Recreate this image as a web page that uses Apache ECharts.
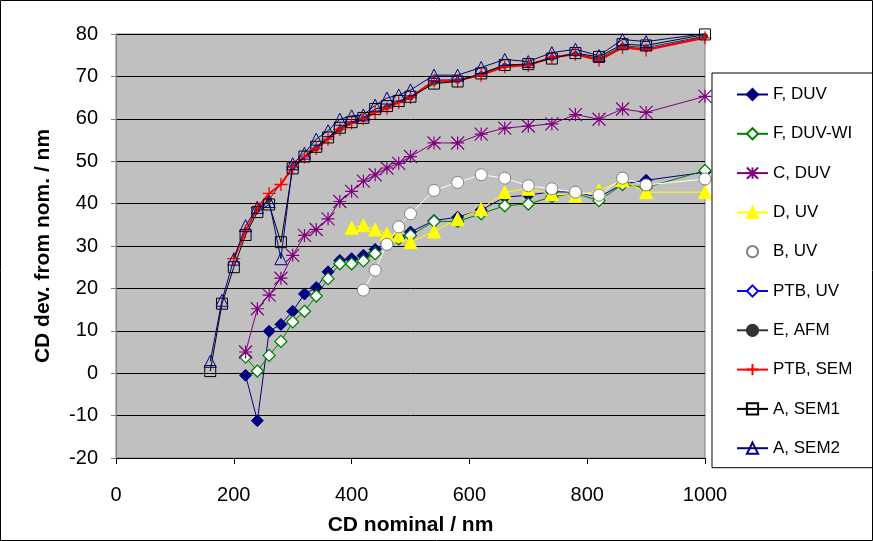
<!DOCTYPE html>
<html>
<head>
<meta charset="utf-8">
<script src="https://cdn.jsdelivr.net/npm/echarts@6/dist/echarts.min.js"></script>
<style>
html,body{margin:0;padding:0;background:#fff;}
#c{width:873px;height:541px;}
</style>
</head>
<body>
<div id="c"></div>
<script>
// ---- data ----
var xA = [160,180,200,220,240,260,280,300,320,340,360,380,400,420,440,460,480,500,540,580,620,660,700,740,780,820,860,900,1000];
var aSem1 = [0.5,16.4,25,32.6,38,39.8,30.9,48.3,51.1,53.4,55.6,57.9,59.2,60.2,62.3,63,64.2,65.2,68.3,68.8,70.7,72.7,72.9,74.2,75.5,74.6,77.6,77.3,79.9];
var aSem2 = [2.8,17.2,26.9,34.8,39.1,40.5,27.0,49.4,51.9,55.2,57.2,59.9,60.7,60.9,63.2,64.9,65.6,66.8,70.3,70.3,72.1,74,73.5,75.6,76.4,74.9,78.7,78.2,80.1];

var xPtbSem = [200,220,240,260,280,300,320,340,360,380,400,420,440,460,480,500,540,580,620,660,700,740,780,820,860,900,1000];
var ptbSem = [27,33.5,39,42.4,44.5,48.6,51,53,55.2,57.5,59,60,61.5,62.5,63.8,65,69,69,70.3,72.3,72.6,74.5,75.2,73.8,76.8,76.2,79.1];

var xEafm = [240,260,300,340,380,420,460,500,540,580,620,660,700,740,780,820,860,900,1000];
var eAfm = [38.5,41,48.5,53,57.5,60,62.8,65,68.5,69,70.5,72.5,72.8,74.3,75.3,74.2,77.2,76.8,79.5];

var xPtbUv = [300,340,380,420,460,500,540,580,620,660,700,740,780,820,860,900,1000];
var ptbUv = [48.8,53.2,57.6,60.1,62.7,65.1,69.1,69.2,70.5,72.5,72.7,74.6,75.3,73.9,77,76.4,79.3];

var xC = [220,240,260,280,300,320,340,360,380,400,420,440,460,480,500,540,580,620,660,700,740,780,820,860,900,1000];
var cDuv = [5.0,15.2,18.4,22.4,27.8,32.5,33.9,36.4,40.5,42.9,45.3,46.8,48.4,49.5,51.1,54.3,54.3,56.4,57.8,58.3,58.8,61.0,59.9,62.3,61.5,65.3];

var xF = [220,240,260,280,300,320,340,360,380,400,420,440,460,480,500,540,580,620,660,700,740,780,820,860,900,1000];
var fDuv = [-0.5,-11.2,9.9,11.5,14.6,18.7,20.2,23.9,26.6,27.0,27.8,29.2,30.5,32.0,33.3,36.0,36.8,38.5,41.5,42.0,42.8,42.7,41.5,44.6,45.5,47.4];
var fDuvWi = [3.8,0.5,4.2,7.5,12.1,14.6,18.2,22.3,25.8,25.8,26.5,28.2,30.6,31.7,32.5,35.8,35.8,37.6,39.5,39.9,41.6,42.4,40.7,44.5,43.8,47.8];

var xD = [400,420,440,460,480,500,540,580,620,660,700,740,780,820,860,900,1000];
var dUv = [34.3,34.9,33.9,32.9,32.5,30.9,33.4,36.4,38.7,42.7,43.5,42.3,41.9,43.1,45.5,42.7,42.7];

var xB = [420,440,460,480,500,540,580,620,660,700,740,780,820,860,900,1000];
var bUv = [19.6,24.3,30.4,34.5,37.6,43.1,45.0,46.8,46.0,44.2,43.5,42.7,42.0,46.0,44.4,45.8];

var xTicks = [0,200,400,600,800,1000];
var yTicks = [-20,-10,0,10,20,30,40,50,60,70,80];

function pairs(xs, ys){ return xs.map(function(x,i){ return [x, ys[i]]; }); }

var FONT = 'Liberation Sans, Arial, sans-serif';
var plusPath = 'path://M5,0L5,10M0,5L10,5';
var starPath = 'path://M5,0L5,10M0,0L10,10M10,0L0,10M0,5L10,5';

function mk(name, xs, ys, o){
  return {
    name: name, type: 'line', data: pairs(xs, ys),
    symbol: o.symbol, symbolSize: o.size,
    showAllSymbol: true,
    lineStyle: { color: o.line, width: o.lw || 1 },
    itemStyle: { color: o.fill, borderColor: o.border, borderWidth: o.bw || 1 },
    emphasis: { disabled: true },
    animation: false,
    z: o.z || 2
  };
}

var chart = echarts.init(document.getElementById('c'), null, { renderer: 'canvas' });
chart.setOption({
  animation: false,
  backgroundColor: '#fff',
  graphic: [{ type: 'rect', shape: { x: 0.5, y: 0.5, width: 872, height: 540 }, style: { fill: 'none', stroke: '#000', lineWidth: 1 }, z: 100 }],
  grid: { left: 116, right: 168, top: 34, bottom: 83, show: true, backgroundColor: '#C0C0C0', borderColor: '#808080', borderWidth: 1 },
  xAxis: {
    type: 'value', min: 0, max: 1000, interval: 200,
    name: 'CD nominal / nm', nameLocation: 'middle', nameGap: 57,
    nameTextStyle: { fontFamily: FONT, fontSize: 21, fontWeight: 'bold', color: '#000' },
    axisLine: { onZero: false, lineStyle: { color: '#000', width: 1 } },
    axisTick: { show: true, length: 6, lineStyle: { color: '#000' } },
    axisLabel: { margin: 27, fontFamily: FONT, fontSize: 20, color: '#000',
      formatter: function(v){ return xTicks.indexOf(v) >= 0 ? String(v) : ''; } },
    splitLine: { show: false }
  },
  yAxis: {
    type: 'value', min: -20, max: 80, interval: 10,
    name: 'CD dev. from nom. / nm', nameLocation: 'middle', nameGap: 62, nameRotate: 90,
    nameTextStyle: { fontFamily: FONT, fontSize: 21, fontWeight: 'bold', color: '#000' },
    axisLine: { show: true, lineStyle: { color: '#808080', width: 1 } },
    axisTick: { show: true, length: 5, lineStyle: { color: '#808080' } },
    axisLabel: { margin: 18, fontFamily: FONT, fontSize: 20, color: '#000',
      formatter: function(v){ return yTicks.indexOf(v) >= 0 ? String(v) : ''; } },
    splitLine: { show: true, lineStyle: { color: '#000', width: 1 } }
  },
  legend: {
    orient: 'vertical', left: 712, top: 73,
    itemWidth: 31, itemHeight: 14, itemGap: 22.3,
    padding: [13, 60, 11, 24],
    backgroundColor: '#fff', borderColor: '#000', borderWidth: 1,
    textStyle: { fontFamily: FONT, fontSize: 17, color: '#000', lineHeight: 14 },
    data: ['F, DUV','F, DUV-WI','C, DUV','D, UV','B, UV','PTB, UV','E, AFM','PTB, SEM','A, SEM1','A, SEM2']
  },
  series: [
    mk('F, DUV', xF, fDuv, { symbol: 'diamond', size: 12, line: '#000080', fill: '#000080', border: '#000080' }),
    mk('F, DUV-WI', xF, fDuvWi, { symbol: 'diamond', size: 12, line: '#008000', fill: '#FFFFFF', border: '#008000', bw: 1.3 }),
    mk('C, DUV', xC, cDuv, { symbol: starPath, size: 13, line: '#800080', fill: 'none', border: '#800080', bw: 1.2 }),
    mk('D, UV', xD, dUv, { symbol: 'triangle', size: 13, line: '#FFFF00', fill: '#FFFF00', border: '#FFFF00' }),
    mk('B, UV', xB, bUv, { symbol: 'circle', size: 12, line: '#FFFFFF', fill: '#FFFFFF', border: '#808080' }),
    mk('PTB, UV', xPtbUv, ptbUv, { symbol: 'diamond', size: 6, line: '#0000FF', fill: '#FFFFFF', border: '#0000FF' }),
    mk('E, AFM', xEafm, eAfm, { symbol: 'circle', size: 5, line: '#333333', fill: '#333333', border: '#333333' }),
    mk('PTB, SEM', xPtbSem, ptbSem, { symbol: plusPath, size: 13, line: '#FF0000', lw: 2, fill: 'none', border: '#FF0000', bw: 1.3 }),
    mk('A, SEM1', xA, aSem1, { symbol: 'rect', size: 11, line: '#000000', fill: 'rgba(0,0,0,0)', border: '#000000' }),
    mk('A, SEM2', xA, aSem2, { symbol: 'triangle', size: 12, line: '#000080', fill: 'rgba(0,0,0,0)', border: '#000080' })
  ]
});
</script>
</body>
</html>
